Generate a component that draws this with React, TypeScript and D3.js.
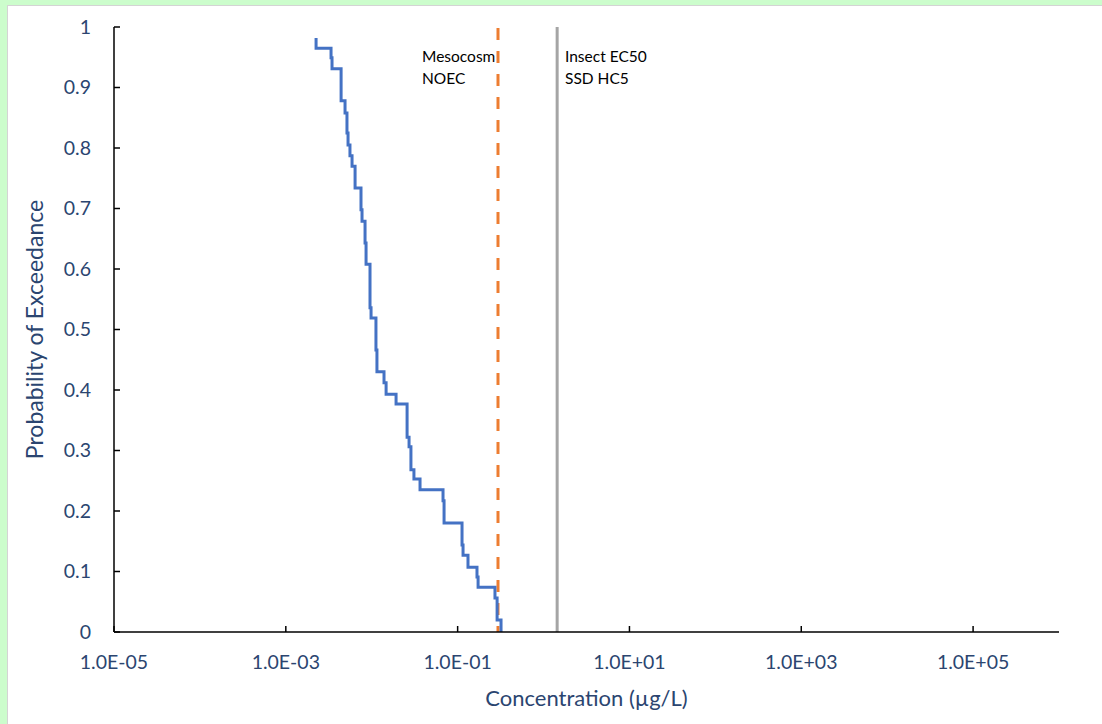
import React from 'react'
import * as d3 from 'd3'

// exceedance curve: concentration (µg/L) where the step drops, probability after the drop
const conc = [0.00225, 0.00225, 0.00336, 0.00345, 0.0044, 0.00489, 0.00515, 0.0053, 0.00558, 0.0059,
  0.0064, 0.0075, 0.00771, 0.00836, 0.00859, 0.00955, 0.00982, 0.0112, 0.0115, 0.0139,
  0.0147, 0.0192, 0.0258, 0.0272, 0.0286, 0.031, 0.0365, 0.0676, 0.0695, 0.1125,
  0.1156, 0.132, 0.168, 0.173, 0.272, 0.288, 0.32]
const prob = [0.982, 0.965, 0.949, 0.931, 0.878, 0.858, 0.825, 0.805, 0.787, 0.77,
  0.734, 0.698, 0.679, 0.643, 0.608, 0.536, 0.519, 0.466, 0.43, 0.412,
  0.393, 0.377, 0.322, 0.306, 0.268, 0.253, 0.235, 0.217, 0.18, 0.144,
  0.127, 0.107, 0.091, 0.074, 0.056, 0.02, 0]

const xTicks = [1e-5, 1e-3, 1e-1, 1e1, 1e3, 1e5]
const xTickLabels = ['1.0E-05', '1.0E-03', '1.0E-01', '1.0E+01', '1.0E+03', '1.0E+05']
const yTicks = [0, 0.1, 0.2, 0.3, 0.4, 0.5, 0.6, 0.7, 0.8, 0.9, 1]

const noec = 0.295
const hc5 = 1.44

const W = 1102
const H = 724
const left = 114
const right = 1059
const top = 27
const bottom = 632

const labelColor = '#2b4570'
const font = 'Lato, Carlito, sans-serif'

export default function App() {
  const x = d3.scaleLog().domain([1e-5, 1e6]).range([left, right])
  const y = d3.scaleLinear().domain([0, 1]).range([bottom, top])

  const pts = conc.map((c, i) => [c, prob[i]] as [number, number])
  const line = d3.line<[number, number]>()
    .x(d => x(d[0]))
    .y(d => y(d[1]))
    .curve(d3.curveStepAfter)

  return (
    <div style={{ position: 'fixed', left: 0, top: 0 }}>
      <svg width={W} height={H} style={{ display: 'block' }}>
        <rect x={0} y={0} width={W} height={H} fill="#ccfdcc" />
        <rect x={7.5} y={5.5} width={W} height={H} fill="#fff" stroke="#d4d4d4" strokeWidth={1} />

        {/* reference lines */}
        <line x1={x(noec)} x2={x(noec)} y1={top + 1} y2={bottom} stroke="#ed7d31" strokeWidth={3} strokeDasharray="12,11" />
        <line x1={x(hc5)} x2={x(hc5)} y1={top} y2={bottom} stroke="#a5a5a5" strokeWidth={3} />

        <path d={line(pts) ?? ''} fill="none" stroke="#4472c4" strokeWidth={3} />

        {/* axes */}
        <line x1={left} x2={left} y1={top} y2={bottom} stroke="#000" strokeWidth={1.5} />
        <line x1={left} x2={right} y1={bottom} y2={bottom} stroke="#000" strokeWidth={1.5} />
        {yTicks.map(t => (
          <g key={t}>
            <line x1={left} x2={left + 6} y1={y(t)} y2={y(t)} stroke="#000" strokeWidth={1.5} />
            <text x={91} y={y(t)} dy="0.35em" textAnchor="end" fontSize={19.5} fill={labelColor} fontFamily={font}>{String(t)}</text>
          </g>
        ))}
        {xTicks.map((t, i) => (
          <g key={t}>
            <line x1={x(t)} x2={x(t)} y1={bottom} y2={bottom - 6} stroke="#000" strokeWidth={1.5} />
            <text x={x(t)} y={662} dy="0.35em" textAnchor="middle" fontSize={19.5} fill={labelColor} fontFamily={font}>{xTickLabels[i]}</text>
          </g>
        ))}

        <text x={(left + right) / 2} y={698} dy="0.35em" textAnchor="middle" fontSize={22} fill={labelColor} fontFamily={font}>Concentration (µg/L)</text>
        <text transform={`translate(35,${(top + bottom) / 2}) rotate(-90)`} dy="0.35em" textAnchor="middle" fontSize={23} fill={labelColor} fontFamily={font}>Probability of Exceedance</text>

        {/* annotations */}
        <text x={422} y={62} fontSize={15.5} fill="#000" fontFamily={font}>Mesocosm</text>
        <text x={422} y={84} fontSize={15.5} fill="#000" fontFamily={font}>NOEC</text>
        <text x={565} y={62} fontSize={15.5} fill="#000" fontFamily={font}>Insect EC50</text>
        <text x={565} y={84} fontSize={15.5} fill="#000" fontFamily={font}>SSD HC5</text>
      </svg>
    </div>
  )
}
